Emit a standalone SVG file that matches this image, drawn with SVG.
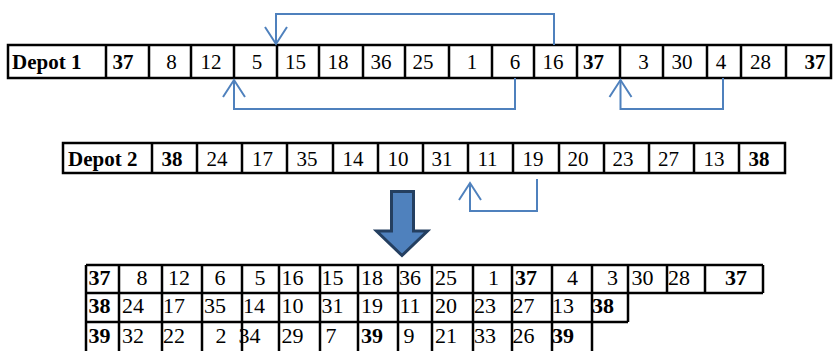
<svg xmlns="http://www.w3.org/2000/svg" width="833" height="351" viewBox="0 0 833 351">
<style>
.cell{fill:#fff;stroke:#000;stroke-width:2.5}
.ln{stroke:#000;stroke-width:2.5}
.t{font-family:"Liberation Serif","Times New Roman",serif;font-size:21px;fill:#000;text-anchor:middle}
.r{font-size:22px}
.b{font-weight:bold}
.s{text-anchor:start}
.con{fill:none;stroke:#4F81BD;stroke-width:2}
</style>
<defs>
<marker id="v" viewBox="-19 -13 21 26" refX="0" refY="0" markerWidth="21" markerHeight="26" markerUnits="userSpaceOnUse" orient="auto">
<path d="M-17,-11 L0,0 L-17,11" fill="none" stroke="#4F81BD" stroke-width="2"/>
</marker>
</defs>
<rect width="833" height="351" fill="#fff"/>

<g id="depot1">
<rect class="cell" x="8" y="45" width="823" height="33"/>
<path class="ln" d="M106,45V78M149,45V78M191,45V78M234,45V78M277,45V78M319,45V78M363,45V78M405,45V78M449,45V78M492,45V78M534,45V78M577,45V78M620,45V78M663,45V78M707,45V78M741,45V78M786,45V78"/>
<text class="t b s" x="12" y="68.5">Depot 1</text>
<text class="t b" x="123" y="68.5">37</text>
<text class="t" x="171.5" y="68.5">8</text>
<text class="t" x="211" y="68.5">12</text>
<text class="t" x="257" y="68.5">5</text>
<text class="t" x="295.5" y="68.5">15</text>
<text class="t" x="338" y="68.5">18</text>
<text class="t" x="381" y="68.5">36</text>
<text class="t" x="423" y="68.5">25</text>
<text class="t" x="472" y="68.5">1</text>
<text class="t" x="515" y="68.5">6</text>
<text class="t" x="553" y="68.5">16</text>
<text class="t b" x="593.5" y="68.5">37</text>
<text class="t" x="643.5" y="68.5">3</text>
<text class="t" x="682" y="68.5">30</text>
<text class="t" x="721" y="68.5">4</text>
<text class="t" x="760.5" y="68.5">28</text>
<text class="t b" x="815" y="68.5">37</text>
</g>

<g id="depot2">
<rect class="cell" x="63" y="143" width="722" height="30"/>
<path class="ln" d="M152,143V173M197,143V173M242,143V173M287,143V173M333,143V173M378,143V173M423,143V173M468,143V173M513,143V173M559,143V173M604,143V173M649,143V173M694,143V173M739,143V173"/>
<text class="t b s" x="68" y="166">Depot 2</text>
<text class="t b" x="172" y="166">38</text>
<text class="t" x="217" y="166">24</text>
<text class="t" x="262.5" y="166">17</text>
<text class="t" x="307" y="166">35</text>
<text class="t" x="353" y="166">14</text>
<text class="t" x="398" y="166">10</text>
<text class="t" x="442" y="166">31</text>
<text class="t" x="487.5" y="166">11</text>
<text class="t" x="533" y="166">19</text>
<text class="t" x="578" y="166">20</text>
<text class="t" x="623" y="166">23</text>
<text class="t" x="668.5" y="166">27</text>
<text class="t" x="714" y="166">13</text>
<text class="t b" x="759" y="166">38</text>
</g>

<g id="transform-arrow">
<path d="M391.5,191.5H413.5V231H427.5L402,255.5L376.5,231H391.5Z" fill="#4F81BD" stroke="#243F60" stroke-width="3" stroke-linejoin="miter"/>
</g>

<g id="result">
<path class="ln" d="M86,265H763M86,293H763M86,322H628M86,265V351M119,265V351M162,265V351M202,265V351M242,265V351M279,265V351M320,265V351M358,265V351M398,265V351M432,265V351M473,265V351M512,265V351M552,265V351M592,265V351M628,265V322M667,265V293M705,265V293M763,265V293"/>
<g id="route1">
<text class="t r b" x="99.5" y="285">37</text>
<text class="t r" x="142" y="285">8</text>
<text class="t r" x="179" y="285">12</text>
<text class="t r" x="220" y="285">6</text>
<text class="t r" x="260" y="285">5</text>
<text class="t r" x="292.5" y="285">16</text>
<text class="t r" x="332.5" y="285">15</text>
<text class="t r" x="372" y="285">18</text>
<text class="t r" x="410" y="285">36</text>
<text class="t r" x="446" y="285">25</text>
<text class="t r" x="493.5" y="285">1</text>
<text class="t r b" x="526" y="285">37</text>
<text class="t r" x="572.5" y="285">4</text>
<text class="t r" x="612.5" y="285">3</text>
<text class="t r" x="642.5" y="285">30</text>
<text class="t r" x="679" y="285">28</text>
<text class="t r b" x="736" y="285">37</text>
</g>
<g id="route2">
<text class="t r b" x="99.5" y="313">38</text>
<text class="t r" x="133" y="313">24</text>
<text class="t r" x="174" y="313">17</text>
<text class="t r" x="215" y="313">35</text>
<text class="t r" x="254" y="313">14</text>
<text class="t r" x="292.5" y="313">10</text>
<text class="t r" x="332.5" y="313">31</text>
<text class="t r" x="372" y="313">19</text>
<text class="t r" x="410" y="313">11</text>
<text class="t r" x="446" y="313">20</text>
<text class="t r" x="485" y="313">23</text>
<text class="t r" x="523.5" y="313">27</text>
<text class="t r" x="563" y="313">13</text>
<text class="t r b" x="603" y="313">38</text>
</g>
<g id="route3">
<text class="t r b" x="99.5" y="343">39</text>
<text class="t r" x="133" y="343">32</text>
<text class="t r" x="174" y="343">22</text>
<text class="t r" x="221" y="343">2</text>
<text class="t r" x="249.5" y="343">34</text>
<text class="t r" x="292.5" y="343">29</text>
<text class="t r" x="331" y="343">7</text>
<text class="t r b" x="372" y="343">39</text>
<text class="t r" x="409" y="343">9</text>
<text class="t r" x="446" y="343">21</text>
<text class="t r" x="485" y="343">33</text>
<text class="t r" x="523.5" y="343">26</text>
<text class="t r b" x="563" y="343">39</text>
</g>
</g>

<g id="connectors">
<path class="con" d="M554,45V14H276V44" marker-end="url(#v)"/>
<path class="con" d="M515,78V109H234V80" marker-end="url(#v)"/>
<path class="con" d="M723,78V109H620.5V80" marker-end="url(#v)"/>
<path class="con" d="M537,179V211H470V183" marker-end="url(#v)"/>
</g>
</svg>
